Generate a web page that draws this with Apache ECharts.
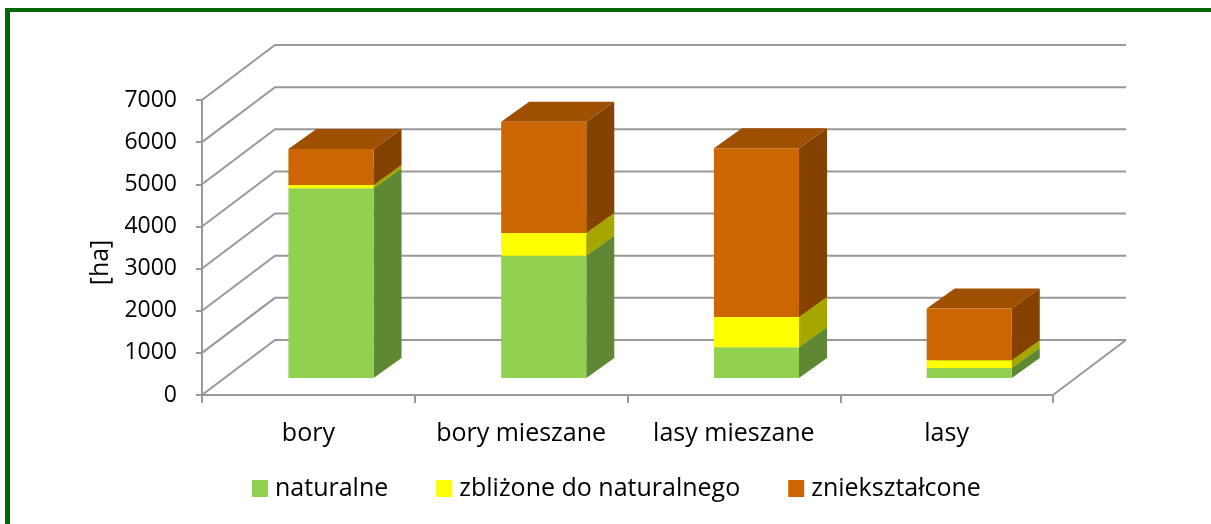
<!DOCTYPE html>
<html>
<head>
<meta charset="utf-8">
<title>Powierzchnia zbiorowisk leśnych</title>
<script src="https://cdn.jsdelivr.net/npm/echarts@6/dist/echarts.min.js"></script>
<style>
  html, body { margin: 0; padding: 0; background: #ffffff; }
  #chart { width: 1211px; height: 524px; }
</style>
</head>
<body>
<div id="chart"></div>
<script>
// Forest community types and area [ha] by naturalness class
const categories = ['bory', 'bory mieszane', 'lasy mieszane', 'lasy'];
const naturalne = [4500, 2900, 730, 240];
const zblizone = [80, 540, 720, 180];
const znieksztalcone = [855, 2640, 4000, 1230];
const yTicks = [0, 1000, 2000, 3000, 4000, 5000, 6000, 7000];
const seriesNames = ['naturalne', 'zbliżone do naturalnego', 'zniekształcone'];

// Pseudo-3D geometry (pixels): depth of the walls/floor and of the bars
const WALL_DX = 73, WALL_DY = -55;
const FRONT_DX = 22.6, FRONT_DY = -17;
const BACK_DX = 50.6, BACK_DY = -37;
const BAR_RATIO = 0.4;
const GRID_COLOR = '#999999';
const FONT = '"Open Sans", "Liberation Sans", sans-serif';

const palette = [
  { front: '#92D050', side: '#5E8833', top: '#76AA3F' },
  { front: '#FFFF00', side: '#A6A600', top: '#CCCC00' },
  { front: '#CC6600', side: '#844100', top: '#9E4F00' }
];

// stacked [category, base, top] triples
const layers = [naturalne, zblizone, znieksztalcone];
const stacked = layers.map(() => []);
categories.forEach((c, i) => {
  let base = 0;
  layers.forEach((arr, k) => {
    stacked[k].push([i, base, base + arr[i]]);
    base += arr[i];
  });
});

function boxRenderer(col) {
  return function (params, api) {
    const cat = api.value(0), lo = api.value(1), hi = api.value(2);
    const p0 = api.coord([cat, lo]);
    const p1 = api.coord([cat, hi]);
    const w = api.size([1, 0])[0] * BAR_RATIO;
    const fx = p0[0] + FRONT_DX - w / 2;
    const fy0 = p0[1] + FRONT_DY;
    const fy1 = p1[1] + FRONT_DY;
    const bx = BACK_DX - FRONT_DX, by = BACK_DY - FRONT_DY;
    return {
      type: 'group',
      children: [
        { type: 'polygon', shape: { points: [[fx + w, fy0], [fx + w + bx, fy0 + by], [fx + w + bx, fy1 + by], [fx + w, fy1]] },
          style: { fill: col.side } },
        { type: 'polygon', shape: { points: [[fx, fy1], [fx + w, fy1], [fx + w + bx, fy1 + by], [fx + bx, fy1 + by]] },
          style: { fill: col.top } },
        { type: 'rect', shape: { x: fx, y: fy1, width: w, height: fy0 - fy1 },
          style: { fill: col.front } }
      ]
    };
  };
}

// side wall, back wall and floor lines at each value tick
function wallRenderer(params, api) {
  const v = api.value(1);
  const half = api.size([1, 0])[0] / 2;
  const l = api.coord([0, v]);
  const r = api.coord([categories.length - 1, v]);
  const left = l[0] - half, right = r[0] + half, y = l[1];
  const children = [{
    type: 'polyline',
    shape: { points: [[left, y], [left + WALL_DX, y + WALL_DY], [right + WALL_DX, y + WALL_DY]] },
    style: { stroke: GRID_COLOR, lineWidth: 2, fill: null }
  }];
  if (v === 0) {
    children.push({
      type: 'line',
      shape: { x1: right, y1: y, x2: right + WALL_DX, y2: y + WALL_DY },
      style: { stroke: GRID_COLOR, lineWidth: 2 }
    });
  }
  return { type: 'group', children: children };
}

const chart = echarts.init(document.getElementById('chart'), null, { renderer: 'canvas' });

const series = [{
  name: 'walls',
  type: 'custom',
  renderItem: wallRenderer,
  data: yTicks.map(v => [0, v]),
  encode: { x: 0, y: 1 },
  silent: true,
  z: 1
}];
seriesNames.forEach((name, k) => {
  series.push({
    name: name,
    type: 'custom',
    renderItem: boxRenderer(palette[k]),
    data: stacked[k],
    encode: { x: 0, y: [1, 2] },
    itemStyle: { color: palette[k].front },
    z: 2 + k
  });
});

chart.setOption({
  animation: false,
  backgroundColor: '#ffffff',
  grid: { left: 202, right: 158, top: 100, bottom: 129, containLabel: false },
  xAxis: {
    type: 'category',
    data: categories,
    boundaryGap: true,
    axisLine: { show: true, lineStyle: { color: GRID_COLOR, width: 2 } },
    axisTick: { show: true, length: 8, inside: false, interval: 0, lineStyle: { color: GRID_COLOR, width: 2 } },
    axisLabel: { interval: 0, hideOverlap: false, margin: 26, color: '#000000', fontSize: 25, fontFamily: FONT },
    splitLine: { show: false }
  },
  yAxis: {
    type: 'value',
    min: 0,
    max: 7000,
    interval: 1000,
    name: '[ha]',
    nameLocation: 'middle',
    nameRotate: 90,
    nameGap: 46,
    nameTextStyle: { color: '#000000', fontSize: 25, fontFamily: FONT, padding: [0, 30, 0, 0] },
    axisLine: { show: true, lineStyle: { color: GRID_COLOR, width: 2 } },
    axisTick: { show: true, length: 6, lineStyle: { color: GRID_COLOR, width: 2 } },
    axisLabel: { margin: 25, color: '#000000', fontSize: 23, fontFamily: FONT, formatter: v => String(v) },
    splitLine: { show: false }
  },
  legend: {
    data: seriesNames,
    left: 252,
    top: 476,
    padding: 0,
    icon: 'rect',
    itemWidth: 16,
    itemHeight: 17,
    itemGap: 48,
    textStyle: { color: '#000000', fontSize: 25, fontFamily: FONT, padding: [0, 0, 0, 2] }
  },
  graphic: [
    { type: 'rect', shape: { x: 5, y: 8, width: 5, height: 520 }, style: { fill: '#006600' }, silent: true },
    { type: 'rect', shape: { x: 5, y: 8, width: 1210, height: 4 }, style: { fill: '#006600' }, silent: true }
  ],
  series: series
});
</script>
</body>
</html>
